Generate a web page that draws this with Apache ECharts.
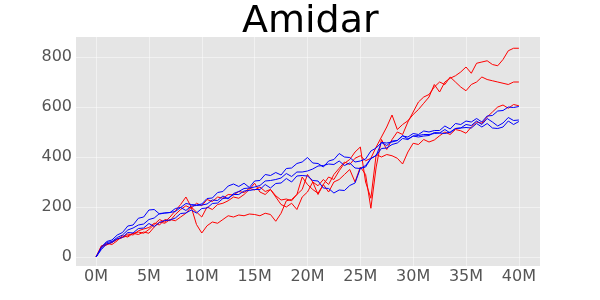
<!DOCTYPE html>
<html lang="en">
<head>
    <meta charset="UTF-8">
    <title>Amidar</title>
    <script src="https://cdn.jsdelivr.net/npm/echarts@6/dist/echarts.min.js"></script>
</head>
<body style="margin:0">
<div id="main" style="width: 600px;height:300px;"></div>
<script>
    // sample positions, in millions of frames
    var steps = [0, 0.5, 1, 1.5, 2, 2.5, 3, 3.5, 4, 4.5, 5, 5.5, 6, 6.5, 7, 7.5, 8, 8.5, 9, 9.5,
        10, 10.5, 11, 11.5, 12, 12.5, 13, 13.5, 14, 14.5, 15, 15.5, 16, 16.5, 17, 17.5, 18, 18.5, 19, 19.5,
        20, 20.5, 21, 21.5, 22, 22.5, 23, 23.5, 24, 24.5, 25, 25.5, 26, 26.5, 27, 27.5, 28, 28.5, 29, 29.5,
        30, 30.5, 31, 31.5, 32, 32.5, 33, 33.5, 34, 34.5, 35, 35.5, 36, 36.5, 37, 37.5, 38, 38.5, 39, 39.5, 40];

    var xTicks = [0, 5, 10, 15, 20, 25, 30, 35, 40];
    var yTicks = [0, 200, 400, 600, 800];

    // red runs
    var red1 = [0, 45, 50, 58, 72, 80, 92, 88, 105, 112, 118, 135, 128, 150, 145, 170, 190, 205, 195, 215,
        205, 230, 222, 240, 235, 250, 248, 262, 258, 275, 268, 280, 262, 270, 245, 228, 232, 225, 250, 270,
        330, 300, 285, 310, 290, 330, 355, 380, 370, 395, 405, 385, 395, 440, 480, 520, 568, 510, 530, 545,
        570, 590, 615, 640, 690, 660, 700, 715, 725, 740, 760, 735, 775, 780, 785, 770, 765, 790, 825, 835, 835];
    var red2 = [0, 40, 55, 50, 65, 85, 80, 95, 90, 100, 95, 120, 140, 135, 150, 145, 160, 175, 200, 180,
        160, 200, 190, 210, 215, 225, 240, 235, 250, 270, 295, 260, 250, 270, 240, 210, 200, 215, 190, 240,
        260, 300, 250, 290, 260, 300, 310, 330, 350, 300, 360, 330, 195, 360, 470, 430, 470, 500, 490, 540,
        580, 620, 640, 650, 680, 700, 690, 720, 700, 680, 665, 690, 700, 720, 710, 705, 700, 695, 690, 700, 700];
    var red3 = [0, 42, 48, 60, 70, 78, 85, 95, 100, 95, 110, 130, 150, 140, 160, 185, 210, 240, 200, 130,
        96, 125, 140, 135, 150, 165, 160, 168, 165, 172, 170, 165, 175, 170, 143, 175, 225, 230, 250, 320,
        290, 270, 255, 290, 320, 310, 345, 375, 390, 420, 440, 300, 235, 410, 400, 410, 405, 395, 372, 420,
        455, 450, 470, 460, 468, 485, 500, 490, 510, 505, 495, 520, 540, 535, 560, 580, 600, 608, 595, 610, 605];

    // blue runs
    var blue1 = [0, 40, 62, 68, 88, 98, 124, 128, 155, 160, 188, 190, 172, 176, 178, 194, 198, 214, 210, 208,
        212, 234, 236, 258, 262, 284, 292, 282, 295, 278, 304, 306, 330, 326, 338, 328, 354, 356, 374, 380,
        398, 376, 374, 360, 384, 390, 414, 400, 398, 380, 384, 392, 424, 436, 458, 456, 460, 466, 484, 480,
        494, 490, 504, 500, 506, 506, 524, 512, 534, 530, 544, 540, 554, 540, 564, 566, 584, 586, 600, 598, 602];
    var blue2 = [0, 35, 58, 62, 78, 88, 108, 116, 128, 132, 150, 156, 174, 176, 178, 182, 198, 186, 204, 206,
        208, 212, 228, 226, 244, 232, 254, 262, 274, 276, 280, 286, 304, 306, 310, 316, 334, 322, 340, 340,
        344, 352, 364, 366, 372, 370, 384, 366, 376, 356, 354, 366, 394, 406, 434, 436, 450, 456, 474, 470,
        484, 486, 490, 490, 494, 496, 510, 496, 514, 516, 530, 526, 544, 530, 554, 540, 524, 536, 558, 546, 548];
    var blue3 = [0, 30, 52, 58, 73, 78, 98, 96, 114, 116, 134, 122, 138, 146, 148, 156, 174, 176, 188, 176,
        194, 196, 214, 216, 234, 236, 250, 250, 264, 266, 270, 270, 290, 276, 294, 296, 314, 300, 324, 326,
        324, 306, 304, 276, 274, 256, 268, 266, 286, 296, 354, 360, 394, 406, 458, 446, 464, 466, 486, 472,
        484, 480, 484, 486, 498, 496, 494, 500, 514, 516, 518, 516, 534, 520, 534, 516, 514, 520, 544, 530, 542];

    var runs = [
        {vals: red1, color: '#ff0000'},
        {vals: red2, color: '#ff0000'},
        {vals: red3, color: '#ff0000'},
        {vals: blue1, color: '#0000ff'},
        {vals: blue2, color: '#0000ff'},
        {vals: blue3, color: '#0000ff'}
    ];

    var myChart = echarts.init(document.getElementById('main'));

    var series = runs.map(function (r) {
        return {
            type: 'line',
            showSymbol: false,
            data: r.vals.map(function (v, i) { return [steps[i], v]; }),
            lineStyle: {color: r.color, width: 1},
            itemStyle: {color: r.color}
        };
    });

    var font = 'DejaVu Sans';
    option = {
        backgroundColor: '#ffffff',
        animation: false,
        title: {
            text: 'Amidar',
            left: 237,
            top: -2,
            textStyle: {fontFamily: font, fontSize: 38, fontWeight: 'normal', color: '#000'}
        },
        grid: {left: 76, right: 60, top: 37, bottom: 34, show: true, backgroundColor: '#e5e5e5', borderWidth: 0},
        xAxis: {
            type: 'value',
            min: -1.9,
            max: 42,
            axisLine: {show: false},
            axisTick: {show: false, customValues: xTicks},
            axisLabel: {
                customValues: xTicks,
                formatter: function (v) { return v + 'M'; },
                color: '#555555', fontFamily: font, fontSize: 16, margin: 3
            },
            splitLine: {show: true, lineStyle: {color: 'rgba(255,255,255,0.45)', width: 1}}
        },
        yAxis: {
            type: 'value',
            min: -36,
            max: 880,
            axisLine: {show: false},
            axisTick: {show: false, customValues: yTicks},
            axisLabel: {
                customValues: yTicks,
                color: '#555555', fontFamily: font, fontSize: 16, margin: 4
            },
            splitLine: {show: true, lineStyle: {color: 'rgba(255,255,255,0.45)', width: 1}}
        },
        series: series
    };
    myChart.setOption(option);
</script>
</body>
</html>
